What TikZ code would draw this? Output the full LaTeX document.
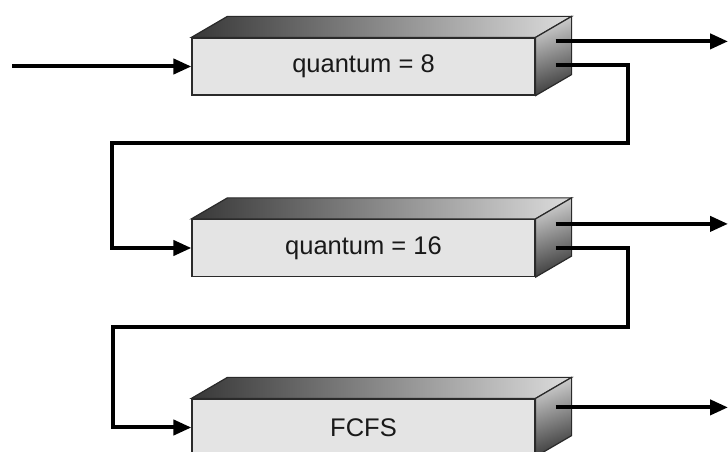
\documentclass[tikz,border=0pt]{standalone}
\usepackage{fontspec}
\setmainfont{Liberation Sans}
\usetikzlibrary{calc,arrows.meta}
\definecolor{facegray}{HTML}{E4E4E4}
\definecolor{topdark}{HTML}{383838}
\definecolor{toplight}{HTML}{DCDCDC}
\definecolor{sidelight}{HTML}{D0D0D0}
\definecolor{sidedark}{HTML}{3C3C3C}
\definecolor{edgegray}{HTML}{2A2A2A}
\def\prism(#1){%
	\shadedraw[left color=topdark, right color=toplight, draw=edgegray, line width=1.2pt]
		(#1.north west) -- ++(36, 21) -- ($(#1.north east)+(36, 21)$) -- (#1.north east) -- cycle;
	\shadedraw[top color=sidelight, bottom color=sidedark, shading angle=20, draw=edgegray, line width=1.2pt]
		(#1.north east) -- ++(36, 21) -- ($(#1.south east)+(36, 21)$) -- (#1.south east) -- cycle;}

\begin{document}
\begin{tikzpicture}[x=1pt, y=1pt,
		queue/.style={draw=edgegray, line width=1.2pt, fill=facegray, minimum width=343pt, minimum height=57pt, inner sep=0pt, text=black!90, font=\fontsize{25.5}{30}\selectfont},
		flow/.style={line width=4pt, -{Triangle[length=18pt, width=15pt]}},
		back/.style={line width=4pt}]
		%%%%% START %%%%%
		
		\clip (0, 0) rectangle (728, 452);
		
		\node[queue] (q1) at (363.5, 385.5) {quantum = 8};
		\node[queue] (q2) at (363.5, 204) {quantum = 16};
		\node[queue] (q3) at (363.5, 24.5) {FCFS};
		
		\prism(q1)
		\prism(q2)
		\prism(q3)
		
		\coordinate (in) at ($(q1.west)+(-179, 0)$);
		\coordinate (rim) at (728, 0);
		\coordinate (q1out) at ($(q1.north east)+(20, -4)$);
		\coordinate (q1ret) at ($(q1.north east)+(20, -28)$);
		\coordinate (q2out) at ($(q2.north east)+(20, -5)$);
		\coordinate (q2ret) at ($(q2.north east)+(20, -29)$);
		\coordinate (q3out) at ($(q3.north east)+(20, -9)$);
		
		% new jobs come in at the top queue
		\draw[flow] (in) -- (q1.west);
		
		% finished within the quantum
		\draw[flow] (q1out) -- (q1out -| rim);
		\draw[flow] (q2out) -- (q2out -| rim);
		\draw[flow] (q3out) -- (q3out -| rim);
		
		% quantum used up: down one level
		\draw[flow] (q1ret) -- ++(72, 0) |- ($(q2.west)+(-79, 105)$) |- (q2.west);
		\draw[flow] (q2ret) -- ++(72, 0) |- ($(q3.west)+(-78, 100.5)$) |- (q3.west);
		
		%%%%% END %%%%%
\end{tikzpicture}
\end{document}
